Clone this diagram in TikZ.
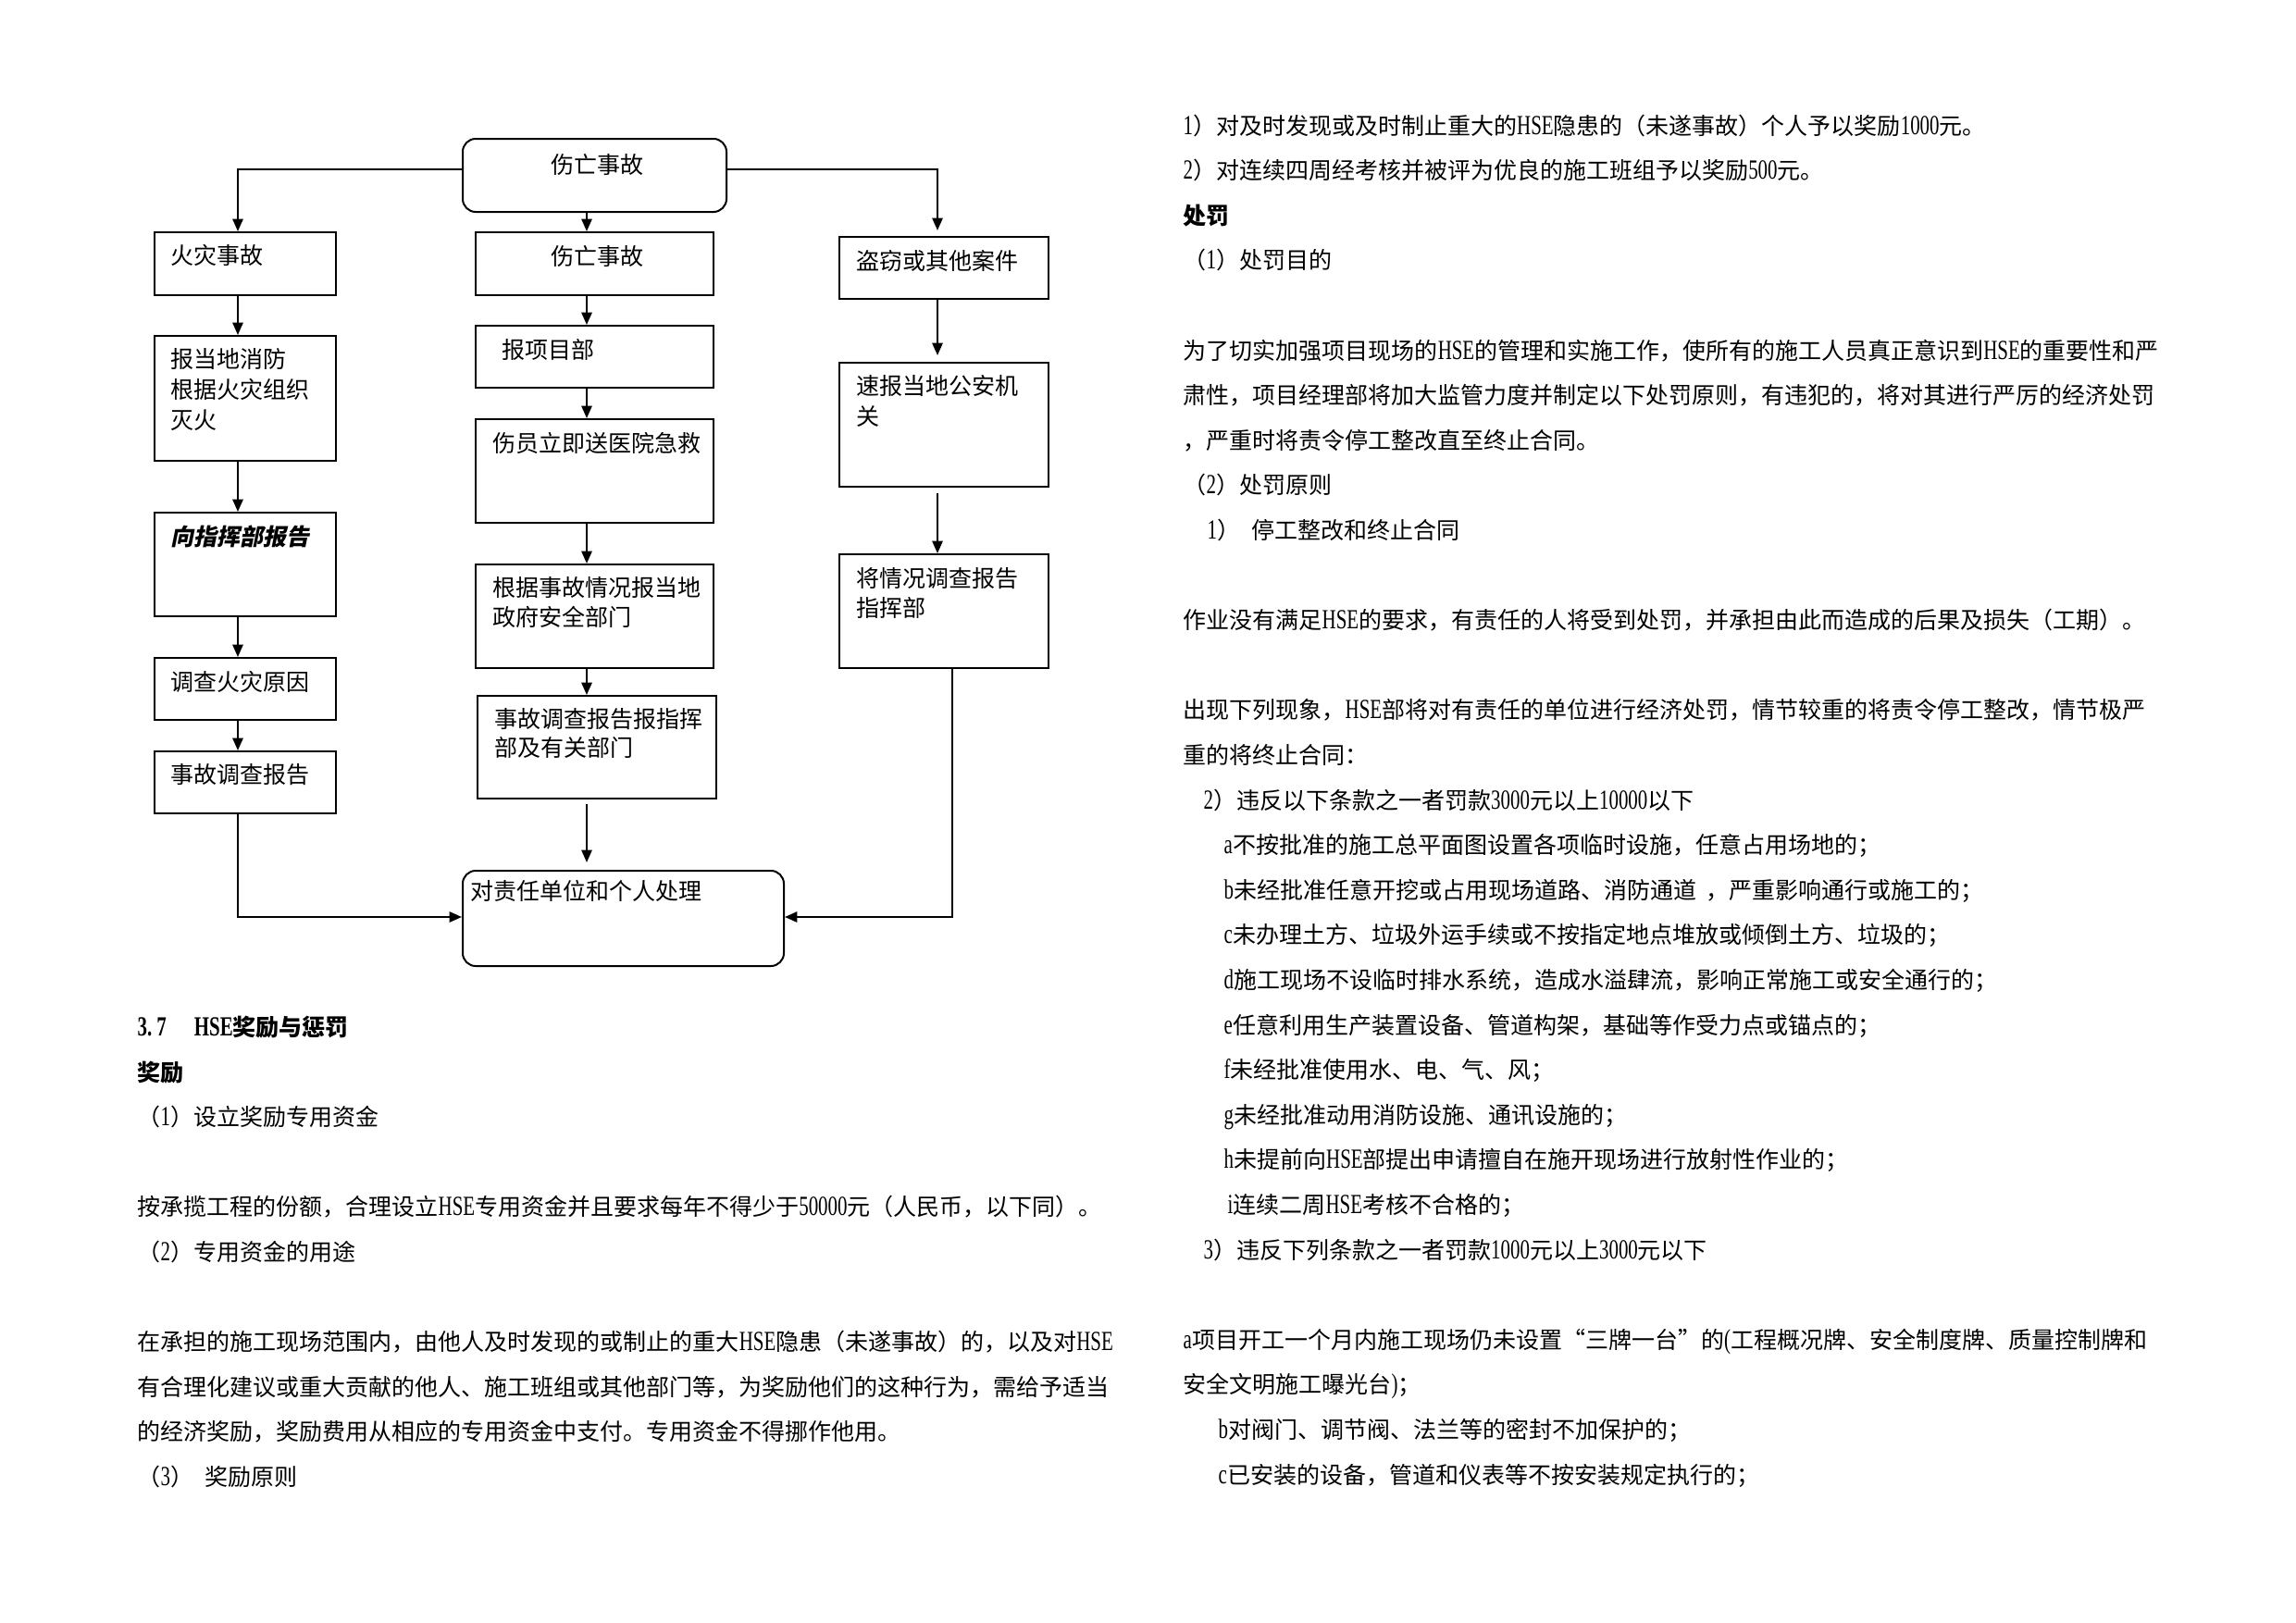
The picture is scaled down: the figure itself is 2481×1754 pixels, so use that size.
\documentclass[tikz,border=0pt]{standalone}
\usepackage{fontspec}
\setmainfont{Noto Sans CJK SC}
\newfontfamily\latfont[FakeStretch=0.7]{Liberation Serif}
\newfontfamily\slantcjk[FakeSlant=0.2]{Noto Sans CJK SC}
\usetikzlibrary{arrows.meta,fit,calc}
\newcommand\la[1]{{\latfont\fontsize{8.5pt}{9pt}\selectfont #1}}
\newcommand\fs{\fontsize{7.11pt}{9pt}\selectfont}
\begin{document}
\begin{tikzpicture}[x=0.01cm,y=-0.01cm,
  box/.style={draw, line width=0.57pt, inner sep=0pt},
  rbox/.style={box, rounded corners=0.14cm},
  txt/.style={inner sep=0pt, anchor=west, font=\fs, text height=6.26pt, text depth=0.85pt},
  btxt/.style={txt, font=\fs\bfseries},
  conn/.style={draw, line width=0.57pt, -{Triangle[length=3.8pt,width=3.2pt]}}]
\useasboundingbox (0,0) rectangle (2481,1754);

% ---------------- flowchart boxes ----------------
\node[rbox, fit={(500,150) (785,229)}] (top) {};
\node[box, fit={(167,251) (363,319)}] (fire) {};
\node[box, fit={(514,251) (771,319)}] (cas) {};
\node[box, fit={(907,256) (1133,323)}] (theft) {};
\node[box, fit={(167,363) (363,498)}] (firerep) {};
\node[box, fit={(514,352) (771,419)}] (proj) {};
\node[box, fit={(514,453) (771,565)}] (inj) {};
\node[box, fit={(907,392) (1133,526)}] (police) {};
\node[box, fit={(167,554) (363,666)}] (cmd) {};
\node[box, fit={(514,610) (771,722)}] (gov) {};
\node[box, fit={(907,599) (1133,722)}] (sit) {};
\node[box, fit={(167,711) (363,778)}] (inv) {};
\node[box, fit={(167,812) (363,879)}] (frep) {};
\node[box, fit={(516,752) (774,863)}] (acc) {};
\node[rbox, fit={(500,941) (847,1044)}] (final) {};

% ---------------- box texts ----------------
\node[txt] (ttop) at (595,178) {伤亡事故};
\node[txt] (tfire) at (184,276) {火灾事故};
\node[txt] (tcas) at (595,277) {伤亡事故};
\node[txt] (ttheft) at (925,282) {盗窃或其他案件};
\node[txt] (tfr1) at (184,388) {报当地消防};
\node[txt] (tfr2) at (184,421) {根据火灾组织};
\node[txt] (tfr3) at (184,454) {灭火};
\node[txt] (tproj) at (542,378) {报项目部};
\node[txt] (tinj) at (532,479) {伤员立即送医院急救};
\node[txt] (tpol1) at (925,417) {速报当地公安机};
\node[txt] (tpol2) at (925,450) {关};
\node[txt, font=\fs\slantcjk\bfseries] (tcmd) at (184,580) {向指挥部报告};
\node[txt] (tgov1) at (532,635) {根据事故情况报当地};
\node[txt] (tgov2) at (532,667) {政府安全部门};
\node[txt] (tsit1) at (925,625) {将情况调查报告};
\node[txt] (tsit2) at (925,657) {指挥部};
\node[txt] (tinv) at (184,737) {调查火灾原因};
\node[txt] (tfrep) at (184,837) {事故调查报告};
\node[txt] (tacc1) at (534,777) {事故调查报告报指挥};
\node[txt] (tacc2) at (534,808) {部及有关部门};
\node[txt] (tfinal) at (508,963) {对责任单位和个人处理};

% ---------------- connectors ----------------
\coordinate (cL) at (257,0);
\coordinate (cC) at (634,0);
\coordinate (cR) at (1013,0);
\coordinate (cR2) at (1029,0);
\coordinate (ty) at (0,183);
\coordinate (hy) at (0,991);

\draw[conn] (top.west |- ty) -| (fire.north -| cL);
\draw[conn] (top.south -| cC) -- (cas.north -| cC);
\draw[conn, shorten >=0.06cm] (top.east |- ty) -| (theft.north -| cR);
\draw[conn] (fire.south -| cL) -- (firerep.north -| cL);
\draw[conn] (firerep.south -| cL) -- (cmd.north -| cL);
\draw[conn] (cmd.south -| cL) -- (inv.north -| cL);
\draw[conn] (inv.south -| cL) -- (frep.north -| cL);
\draw[conn] (frep.south -| cL) |- (final.west |- hy);
\draw[conn] (cas.south -| cC) -- (proj.north -| cC);
\draw[conn] (proj.south -| cC) -- (inj.north -| cC);
\draw[conn] (inj.south -| cC) -- (gov.north -| cC);
\draw[conn] (gov.south -| cC) -- (acc.north -| cC);
\draw[conn, shorten <=0.05cm, shorten >=0.08cm] (acc.south -| cC) -- (final.north -| cC);
\draw[conn, shorten >=0.07cm] (theft.south -| cR) -- (police.north -| cR);
\draw[conn, shorten <=0.06cm] (police.south -| cR) -- (sit.north -| cR);
\draw[conn] (sit.south -| cR2) |- (final.east |- hy);

% ---------------- left column text ----------------
\node[btxt] (l0) at (148,1110) {\la{3.\,7}\hspace{1.2em}\la{HSE}奖励与惩罚};
\node[btxt] (l1) at (148,1158.6) {奖励};
\node[txt] (l2) at (148,1207.2) {（\la{1}）设立奖励专用资金};
\node[txt] (l4) at (148,1304.4) {按承揽工程的份额，合理设立\la{HSE}专用资金并且要求每年不得少于\la{50000}元（人民币，以下同）。};
\node[txt] (l5) at (148,1353) {（\la{2}）专用资金的用途};
\node[txt] (l7) at (148,1450.2) {在承担的施工现场范围内，由他人及时发现的或制止的重大\la{HSE}隐患（未遂事故）的，以及对\la{HSE}};
\node[txt] (l8) at (148,1498.8) {有合理化建议或重大贡献的他人、施工班组或其他部门等，为奖励他们的这种行为，需给予适当};
\node[txt] (l9) at (148,1547.4) {的经济奖励，奖励费用从相应的专用资金中支付。专用资金不得挪作他用。};
\node[txt] (l10) at (148,1596) {（\la{3}）\hspace{0.5em}奖励原则};

% ---------------- right column text ----------------
\node[txt] (r0) at (1278,135.5) {\la{1}）对及时发现或及时制止重大的\la{HSE}隐患的（未遂事故）个人予以奖励\la{1000}元。};
\node[txt] (r1) at (1278,184.1) {\la{2}）对连续四周经考核并被评为优良的施工班组予以奖励\la{500}元。};
\node[btxt] (r2) at (1278,232.7) {处罚};
\node[txt] (r3) at (1278,281.3) {（\la{1}）处罚目的};
\node[txt] (r5) at (1278,378.5) {为了切实加强项目现场的\la{HSE}的管理和实施工作，使所有的施工人员真正意识到\la{HSE}的重要性和严};
\node[txt] (r6) at (1278,427.1) {肃性，项目经理部将加大监管力度并制定以下处罚原则，有违犯的，将对其进行严厉的经济处罚};
\node[txt] (r7) at (1278,475.7) {，严重时将责令停工整改直至终止合同。};
\node[txt] (r8) at (1278,524.3) {（\la{2}）处罚原则};
\node[txt] (r9) at (1304,572.9) {\la{1}）\hspace{0.5em}停工整改和终止合同};
\node[txt] (r11) at (1278,670.1) {作业没有满足\la{HSE}的要求，有责任的人将受到处罚，并承担由此而造成的后果及损失（工期）。};
\node[txt] (r13) at (1278,767.3) {出现下列现象，\la{HSE}部将对有责任的单位进行经济处罚，情节较重的将责令停工整改，情节极严};
\node[txt] (r14) at (1278,815.9) {重的将终止合同：};
\node[txt] (r15) at (1300,864.5) {\la{2}）违反以下条款之一者罚款\la{3000}元以上\la{10000}以下};
\node[txt] (r16) at (1322,913.1) {\la{a}不按批准的施工总平面图设置各项临时设施，任意占用场地的；};
\node[txt] (r17) at (1322,961.7) {\la{b}未经批准任意开挖或占用现场道路、消防通道\hspace{0.4em}，严重影响通行或施工的；};
\node[txt] (r18) at (1322,1010.3) {\la{c}未办理土方、垃圾外运手续或不按指定地点堆放或倾倒土方、垃圾的；};
\node[txt] (r19) at (1322,1058.9) {\la{d}施工现场不设临时排水系统，造成水溢肆流，影响正常施工或安全通行的；};
\node[txt] (r20) at (1322,1107.5) {\la{e}任意利用生产装置设备、管道构架，基础等作受力点或锚点的；};
\node[txt] (r21) at (1322,1156.1) {\la{f}未经批准使用水、电、气、风；};
\node[txt] (r22) at (1322,1204.7) {\la{g}未经批准动用消防设施、通讯设施的；};
\node[txt] (r23) at (1322,1253.3) {\la{h}未提前向\la{HSE}部提出申请擅自在施开现场进行放射性作业的；};
\node[txt] (r24) at (1326,1301.9) {\la{i}连续二周\la{HSE}考核不合格的；};
\node[txt] (r25) at (1300,1350.5) {\la{3}）违反下列条款之一者罚款\la{1000}元以上\la{3000}元以下};
\node[txt] (r27) at (1278,1447.7) {\la{a}项目开工一个月内施工现场仍未设置“三牌一台”的\la{(}工程概况牌、安全制度牌、质量控制牌和};
\node[txt] (r28) at (1278,1496.3) {安全文明施工曝光台\la{)}；};
\node[txt] (r29) at (1316,1544.9) {\la{b}对阀门、调节阀、法兰等的密封不加保护的；};
\node[txt] (r30) at (1316,1593.5) {\la{c}已安装的设备，管道和仪表等不按安装规定执行的；};
\end{tikzpicture}
\end{document}
